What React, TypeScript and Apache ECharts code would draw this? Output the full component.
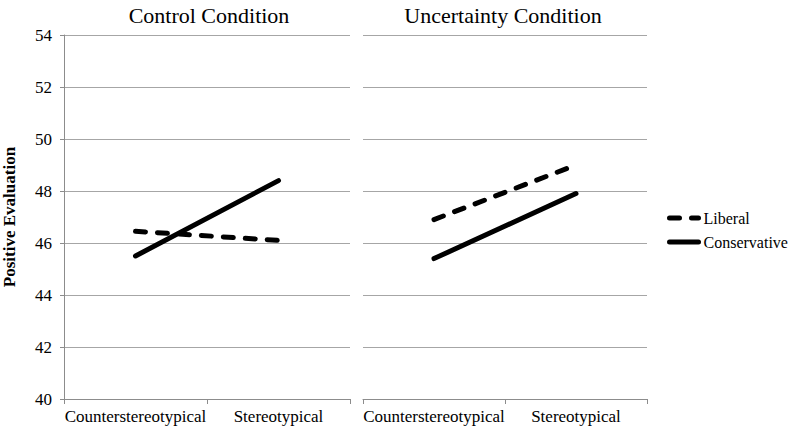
import React, { useEffect, useRef } from "react";
import * as echarts from "echarts";

const categories = ["Counterstereotypical", "Stereotypical"];
const panelTitles = ["Control Condition", "Uncertainty Condition"];
const controlLiberal = [46.45, 46.1];
const controlConservative = [45.5, 48.4];
const uncertaintyLiberal = [46.9, 49.0];
const uncertaintyConservative = [45.4, 47.9];
const yMin = 40;
const yMax = 54;
const yInterval = 2;

const FONT = "Liberation Serif";

export default function App() {
  const ref = useRef<HTMLDivElement>(null);
  useEffect(() => {
    if (!ref.current) return;
    const chart = echarts.init(ref.current, undefined, { renderer: "svg" });
    const axisGrey = "#8c8c8c";
    const gridGrey = "#a6a6a6";
    const makeX = (gridIndex: number) => ({
      type: "category",
      gridIndex,
      data: categories,
      boundaryGap: true,
      axisLine: { show: true, lineStyle: { color: axisGrey, width: 1 } },
      axisTick: { show: true, alignWithLabel: false, length: 5, lineStyle: { color: axisGrey } },
      axisLabel: { color: "#000", fontSize: 17, fontFamily: FONT, margin: 9, interval: 0 },
      splitLine: { show: false },
    });
    const makeY = (gridIndex: number, showAxis: boolean) => ({
      type: "value",
      gridIndex,
      min: yMin,
      max: yMax,
      interval: yInterval,
      name: showAxis ? "Positive Evaluation" : "",
      nameLocation: "middle",
      nameGap: 46,
      nameTextStyle: { color: "#000", fontSize: 17, fontWeight: "bold", fontFamily: FONT },
      axisLine: { show: showAxis, lineStyle: { color: axisGrey, width: 1 } },
      axisTick: { show: showAxis, length: 4, lineStyle: { color: axisGrey } },
      axisLabel: { show: showAxis, color: "#000", fontSize: 17, fontFamily: FONT, margin: 12 },
      splitLine: { show: true, lineStyle: { color: gridGrey, width: 1 } },
    });
    const dashed = { color: "#000", width: 5, type: [10, 12], cap: "round" };
    const solid = { color: "#000", width: 5, type: "solid", cap: "round" };
    const mk = (name: string, data: number[], idx: number, ls: any) => ({
      name,
      type: "line",
      xAxisIndex: idx,
      yAxisIndex: idx,
      data,
      symbol: "none",
      lineStyle: ls,
      itemStyle: { color: "#000" },
    });
    const titleStyle = { color: "#000", fontSize: 22, fontWeight: "normal", fontFamily: FONT };
    chart.setOption({
      animation: false,
      backgroundColor: "#fff",
      textStyle: { fontFamily: FONT },
      title: [
        { text: panelTitles[0], left: 209, top: 4, padding: 0, textAlign: "center", textStyle: titleStyle },
        { text: panelTitles[1], left: 503, top: 4, padding: 0, textAlign: "center", textStyle: titleStyle },
      ],
      legend: {
        orient: "vertical",
        left: 667,
        top: 210,
        padding: 0,
        itemWidth: 29,
        itemHeight: 8,
        itemGap: 8,
        data: ["Liberal", "Conservative"],
        textStyle: { color: "#000", fontSize: 16, fontFamily: FONT },
        lineStyle: { width: 5 },
        itemStyle: { opacity: 0 },
        selectedMode: false,
      },
      grid: [
        { left: 62, top: 35, width: 288, height: 364 },
        { left: 363, top: 35, width: 284, height: 364 },
      ],
      xAxis: [makeX(0), makeX(1)],
      yAxis: [makeY(0, true), makeY(1, false)],
      series: [
        mk("Liberal", controlLiberal, 0, dashed),
        mk("Conservative", controlConservative, 0, solid),
        mk("Liberal", uncertaintyLiberal, 1, dashed),
        mk("Conservative", uncertaintyConservative, 1, solid),
      ],
    });
    return () => chart.dispose();
  }, []);
  return <div ref={ref} style={{ width: 793, height: 429, position: "absolute", left: 0, top: 0 }} />;
}
